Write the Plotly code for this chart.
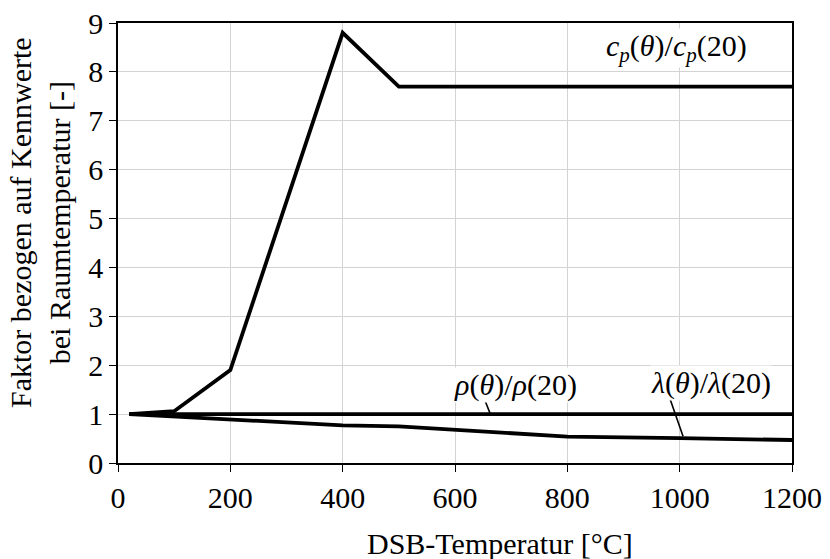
import numpy as np
import plotly.graph_objects as go

# Temperature-dependent property ratios of the DSB material
cp_temp = [20, 100, 200, 400, 500, 1200]
cp_ratio = [1.0, 1.06, 1.9, 8.8, 7.7, 7.7]

rho_temp = [20, 1200]
rho_ratio = [1.0, 1.0]

lam_temp = [20, 200, 400, 500, 800, 1000, 1200]
lam_ratio = [1.0, 0.89, 0.77, 0.75, 0.54, 0.51, 0.47]

x_ticks = [0, 200, 400, 600, 800, 1000, 1200]
y_ticks = [0, 1, 2, 3, 4, 5, 6, 7, 8, 9]

FONT = "Liberation Serif"
FS = 30

fig = go.Figure()
for xs, ys in [(cp_temp, cp_ratio), (rho_temp, rho_ratio), (lam_temp, lam_ratio)]:
    fig.add_trace(go.Scatter(x=xs, y=ys, mode="lines",
                             line=dict(color="black", width=3.8),
                             showlegend=False, hoverinfo="skip"))

# leader lines from labels to curves
rho_pt = 663
lam_pt = 1006
leaders = [
    ((653, 1.29), (rho_pt, float(np.interp(rho_pt, rho_temp, rho_ratio)))),
    ((981, 1.37), (lam_pt, float(np.interp(lam_pt, lam_temp, lam_ratio)) + 0.04)),
]
for (x0, y0), (x1, y1) in leaders:
    fig.add_shape(type="line", x0=x0, y0=y0, x1=x1, y1=y1, xref="x", yref="y",
                  line=dict(color="black", width=1.6), layer="above")

labels = [
    (995, 8.49, "<i>c</i><sub><i>p</i></sub>(<i>θ</i>)/<i>c</i><sub><i>p</i></sub>(20)"),
    (707, 1.6, "<i>ρ</i>(<i>θ</i>)/<i>ρ</i>(20)"),
    (1055, 1.64, "<i>λ</i>(<i>θ</i>)/<i>λ</i>(20)"),
]
for x, y, t in labels:
    fig.add_annotation(x=x, y=y, xref="x", yref="y", text=t, showarrow=False,
                       font=dict(family=FONT, size=FS, color="black"),
                       bgcolor="white", borderpad=0)

# axis titles
fig.add_annotation(x=0, y=0.5, xref="paper", yref="paper", xanchor="center",
                   yanchor="middle", xshift=-78, yshift=20, textangle=-90,
                   text="Faktor bezogen auf Kennwerte<br>bei Raumtemperatur [-]",
                   showarrow=False, font=dict(family=FONT, size=FS, color="black"))
fig.add_annotation(x=0, y=0, xref="paper", yref="paper", xanchor="center",
                   yanchor="middle", xshift=382, yshift=-80,
                   text="DSB-Temperatur [°C]",
                   showarrow=False, font=dict(family=FONT, size=FS, color="black"))

axis_common = dict(showline=True, linecolor="black", linewidth=1.5, mirror=True,
                   ticks="outside", ticklen=7, tickcolor="black", tickwidth=1,
                   showgrid=True, gridcolor="#d3d3d3", gridwidth=1, zeroline=False,
                   automargin=False,
                   tickfont=dict(family=FONT, size=FS, color="black"))

fig.update_xaxes(range=[0, 1200], tickvals=x_ticks, **axis_common)
fig.update_yaxes(range=[0, 9], tickvals=y_ticks, **axis_common)

fig.update_layout(width=830, height=559, plot_bgcolor="white", paper_bgcolor="white",
                  margin=dict(l=118, r=38, t=23, b=96))

fig.write_html("out.html")
